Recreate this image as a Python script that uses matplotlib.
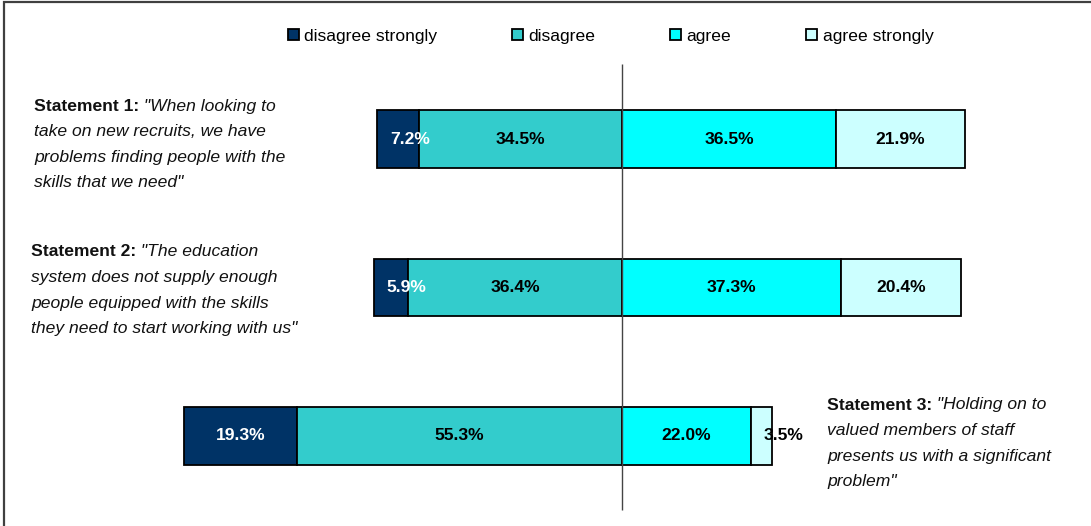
import matplotlib
matplotlib.use("Agg")
import matplotlib.pyplot as plt
from matplotlib.patches import Rectangle

plt.rcParams['font.family'] = ['Liberation Sans', 'DejaVu Sans']

# survey shares per statement (percent)
disagree_strongly = [7.2, 5.9, 19.3]
disagree = [34.5, 36.4, 55.3]
agree = [36.5, 37.3, 22.0]
agree_strongly = [21.9, 20.4, 3.5]

series_names = ["disagree strongly", "disagree", "agree", "agree strongly"]
series_colors = ["#003366", "#33CCCC", "#00FFFF", "#CCFFFF"]
label_colors = ["white", "black", "black", "black"]

statement_heads = ["Statement 1:", "Statement 2:", "Statement 3:"]
statement_lines = [
    ['"When looking to', 'take on new recruits, we have',
     'problems finding people with the', 'skills that we need"'],
    ['"The education', 'system does not supply enough',
     'people equipped with the skills', 'they need to start working with us"'],
    ['"Holding on to', 'valued members of staff',
     'presents us with a significant', 'problem"'],
]

W, H = 1091, 526
fig = plt.figure(figsize=(W / 100, H / 100), dpi=100)
ax = fig.add_axes([0, 0, 1, 1])
ax.axis('off')

px_per_pct = 5.87
zero_px = 622
ax.set_xlim(-zero_px / px_per_pct, (W - zero_px) / px_per_pct)
row_px = 148.5
first_px = 139
ax.set_ylim((H - first_px) / row_px, -first_px / row_px)

fs = 12.6
bar_h = 0.39
rows = list(range(len(disagree)))

# segments: negative side grows left from zero, positive side right
segments = []
for i in rows:
    ds, d, a, as_ = disagree_strongly[i], disagree[i], agree[i], agree_strongly[i]
    segments.append([(-(d + ds), ds), (-d, d), (0, a), (a, as_)])

handles = []
for k in range(4):
    lefts = [segments[i][k][0] for i in rows]
    widths = [segments[i][k][1] for i in rows]
    bars = ax.barh(rows, widths, left=lefts, height=bar_h, color=series_colors[k],
                   edgecolor='black', linewidth=1.3, label=series_names[k], zorder=2)
    handles.append(bars)
    for i in rows:
        left, width = lefts[i], widths[i]
        txt = f"{width:.1f}%"
        if width < 8:
            ax.text(left + 2.2, i, txt, ha='left', va='center', fontsize=fs,
                    fontweight='bold', color=label_colors[k], zorder=4)
        else:
            ax.text(left + width / 2, i, txt, ha='center', va='center', fontsize=fs,
                    fontweight='bold', color=label_colors[k], zorder=4)

# zero line
ax.vlines(0, (64 - first_px) / row_px, (510 - first_px) / row_px,
          color='#444444', linewidth=1, zorder=3)

# statement captions: bold head, italic quote
text_pos = [(34, 106), (31, 252), (827, 405)]
line_gap = 25.6
for (x0, y0), head, lines in zip(text_pos, statement_heads, statement_lines):
    fx, fy = x0 / W, 1 - y0 / H
    t = ax.text(fx, fy, head, transform=ax.transAxes, ha='left', va='center',
                fontsize=fs, fontweight='bold', color='#111111')
    ax.annotate(" " + lines[0], xy=(1, 0.5), xycoords=t, ha='left', va='center',
                fontsize=fs, fontstyle='italic', color='#111111')
    for j, line in enumerate(lines[1:], start=1):
        ax.text(fx, 1 - (y0 + j * line_gap) / H, line, transform=ax.transAxes,
                ha='left', va='center', fontsize=fs, fontstyle='italic', color='#111111')

fig.legend(handles=handles, labels=series_names, ncol=4, frameon=False,
           loc='center', bbox_to_anchor=(610.5 / W, 1 - 36 / H), fontsize=fs,
           handlelength=0.62, handleheight=0.62, handletextpad=0.3,
           columnspacing=4.3)

# outer frame
fig.patches.append(Rectangle((4 / W, -0.1), 1.2, 1 - 2 / H + 0.1,
                             transform=fig.transFigure, fill=False,
                             edgecolor='#404040', linewidth=1.6))

fig.savefig("out.png", dpi=100)
